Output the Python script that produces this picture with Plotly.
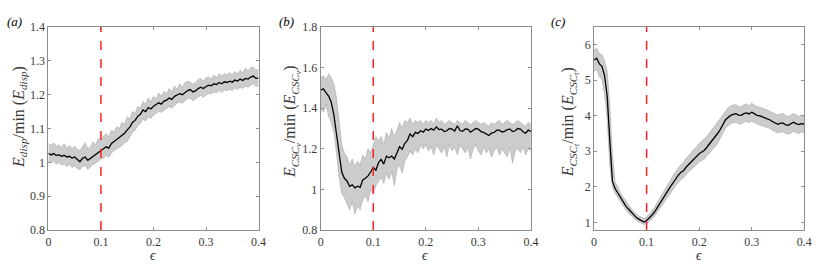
import plotly.graph_objects as go

W, H = 830, 277

eps = [round(i * 0.005, 3) for i in range(81)]

mean_a = [1.027, 1.022, 1.026, 1.020, 1.023, 1.018, 1.021, 1.016, 1.018, 1.013,
          1.016, 1.010, 1.002, 1.012, 1.016, 1.006, 1.012, 1.018, 1.022, 1.030,
          1.036, 1.040, 1.046, 1.042, 1.056, 1.062, 1.068, 1.074, 1.080, 1.086,
          1.096, 1.104, 1.118, 1.124, 1.136, 1.142, 1.155, 1.150, 1.162, 1.158,
          1.166, 1.170, 1.176, 1.172, 1.181, 1.184, 1.190, 1.186, 1.195, 1.199,
          1.203, 1.200, 1.207, 1.212, 1.215, 1.208, 1.211, 1.218, 1.222, 1.218,
          1.224, 1.228, 1.226, 1.232, 1.230, 1.236, 1.232, 1.238, 1.236, 1.240,
          1.237, 1.243, 1.240, 1.246, 1.242, 1.248, 1.246, 1.252, 1.255, 1.248, 1.249]
upper_a = [1.055, 1.050, 1.058, 1.048, 1.052, 1.045, 1.055, 1.042, 1.050, 1.040,
           1.048, 1.038, 1.035, 1.045, 1.058, 1.040, 1.045, 1.060, 1.052, 1.070,
           1.068, 1.078, 1.085, 1.075, 1.095, 1.090, 1.105, 1.100, 1.118, 1.112,
           1.135, 1.128, 1.150, 1.145, 1.165, 1.160, 1.180, 1.172, 1.190, 1.178,
           1.195, 1.188, 1.205, 1.195, 1.210, 1.202, 1.218, 1.208, 1.225, 1.215,
           1.232, 1.222, 1.235, 1.240, 1.238, 1.230, 1.236, 1.245, 1.248, 1.240,
           1.250, 1.252, 1.246, 1.258, 1.250, 1.262, 1.255, 1.262, 1.258, 1.265,
           1.258, 1.268, 1.262, 1.272, 1.265, 1.278, 1.270, 1.280, 1.282, 1.272, 1.275]
lower_a = [1.002, 0.998, 1.004, 0.995, 1.000, 0.992, 0.996, 0.988, 0.994, 0.985,
           0.990, 0.982, 0.978, 0.988, 0.990, 0.980, 0.986, 0.994, 0.998, 1.005,
           1.010, 1.012, 1.020, 1.015, 1.028, 1.035, 1.040, 1.045, 1.050, 1.058,
           1.062, 1.075, 1.088, 1.095, 1.108, 1.115, 1.128, 1.122, 1.135, 1.130,
           1.140, 1.145, 1.150, 1.148, 1.155, 1.160, 1.165, 1.160, 1.168, 1.175,
           1.178, 1.175, 1.182, 1.188, 1.190, 1.182, 1.188, 1.194, 1.198, 1.192,
           1.200, 1.204, 1.202, 1.208, 1.205, 1.212, 1.206, 1.214, 1.212, 1.216,
           1.212, 1.220, 1.215, 1.222, 1.218, 1.225, 1.222, 1.228, 1.232, 1.224, 1.226]

mean_b = [1.489, 1.495, 1.477, 1.460, 1.430, 1.367, 1.273, 1.164, 1.086, 1.055,
          1.042, 1.016, 1.023, 1.008, 1.016, 1.010, 1.047, 1.055, 1.067, 1.086,
          1.109, 1.095, 1.133, 1.148, 1.125, 1.164, 1.156, 1.164, 1.150, 1.180,
          1.211, 1.198, 1.227, 1.242, 1.273, 1.260, 1.281, 1.276, 1.289, 1.282,
          1.297, 1.290, 1.300, 1.292, 1.308, 1.295, 1.297, 1.285, 1.289, 1.300,
          1.297, 1.288, 1.314, 1.290, 1.286, 1.298, 1.297, 1.282, 1.292, 1.300,
          1.297, 1.285, 1.281, 1.272, 1.266, 1.278, 1.281, 1.292, 1.292, 1.283,
          1.286, 1.295, 1.297, 1.285, 1.289, 1.300, 1.297, 1.284, 1.277, 1.292, 1.286]
upper_b = [1.55, 1.56, 1.54, 1.57, 1.55, 1.52, 1.45, 1.34, 1.22, 1.18,
           1.16, 1.12, 1.15, 1.11, 1.14, 1.12, 1.17, 1.15, 1.20, 1.18,
           1.22, 1.26, 1.24, 1.26, 1.22, 1.28, 1.25, 1.30, 1.26, 1.29,
           1.33, 1.30, 1.34, 1.33, 1.35, 1.32, 1.34, 1.33, 1.34, 1.32,
           1.34, 1.33, 1.34, 1.32, 1.35, 1.33, 1.34, 1.32, 1.33, 1.34,
           1.33, 1.32, 1.34, 1.33, 1.32, 1.34, 1.33, 1.32, 1.33, 1.34,
           1.33, 1.32, 1.33, 1.32, 1.31, 1.33, 1.32, 1.33, 1.34, 1.32,
           1.33, 1.34, 1.33, 1.32, 1.33, 1.34, 1.33, 1.32, 1.31, 1.33, 1.32]
lower_b = [1.40, 1.38, 1.42, 1.36, 1.33, 1.28, 1.18, 1.06, 0.98, 0.96,
           0.93, 0.90, 0.94, 0.88, 0.92, 0.90, 0.95, 0.97, 0.94, 1.00,
           0.98, 1.02, 1.04, 1.06, 1.03, 1.08, 1.05, 1.09, 1.02, 1.10,
           1.12, 1.08, 1.14, 1.16, 1.19, 1.17, 1.20, 1.18, 1.22, 1.20,
           1.22, 1.19, 1.21, 1.17, 1.22, 1.20, 1.18, 1.21, 1.16, 1.22,
           1.19, 1.21, 1.17, 1.22, 1.20, 1.18, 1.21, 1.15, 1.20, 1.22,
           1.19, 1.17, 1.21, 1.18, 1.20, 1.16, 1.19, 1.21, 1.17, 1.20,
           1.18, 1.16, 1.21, 1.13, 1.19, 1.20, 1.18, 1.21, 1.17, 1.20, 1.19]

mean_c = [5.57, 5.62, 5.46, 5.39, 5.13, 4.55, 3.30, 2.15, 1.95, 1.83,
          1.70, 1.59, 1.47, 1.38, 1.29, 1.20, 1.14, 1.09, 1.05, 1.01,
          1.05, 1.12, 1.20, 1.29, 1.41, 1.53, 1.65, 1.78, 1.89, 2.00,
          2.10, 2.22, 2.32, 2.40, 2.45, 2.55, 2.63, 2.70, 2.78, 2.84,
          2.93, 2.98, 3.03, 3.12, 3.21, 3.30, 3.39, 3.50, 3.61, 3.76,
          3.88, 3.95, 4.01, 4.04, 4.06, 4.02, 4.01, 4.06, 4.08, 4.05,
          4.10, 4.06, 4.01, 4.00, 3.97, 3.95, 3.92, 3.88, 3.83, 3.80,
          3.76, 3.79, 3.79, 3.74, 3.73, 3.78, 3.82, 3.77, 3.75, 3.78, 3.76]
upper_c = [5.85, 5.90, 5.75, 5.72, 5.55, 5.25, 4.30, 2.90, 2.15, 1.98,
           1.84, 1.72, 1.60, 1.50, 1.40, 1.31, 1.24, 1.18, 1.14, 1.10,
           1.15, 1.24, 1.32, 1.42, 1.56, 1.68, 1.82, 1.95, 2.08, 2.20,
           2.30, 2.42, 2.52, 2.62, 2.68, 2.80, 2.88, 2.98, 3.05, 3.12,
           3.22, 3.28, 3.35, 3.42, 3.52, 3.62, 3.72, 3.82, 3.92, 4.05,
           4.15, 4.22, 4.28, 4.30, 4.32, 4.26, 4.25, 4.30, 4.33, 4.28,
           4.35, 4.30, 4.25, 4.24, 4.22, 4.18, 4.16, 4.12, 4.08, 4.05,
           4.02, 4.05, 4.06, 4.00, 3.98, 4.02, 4.06, 4.02, 3.98, 4.02, 4.00]
lower_c = [5.25, 5.30, 5.10, 5.02, 4.60, 3.90, 2.60, 2.00, 1.82, 1.70,
           1.58, 1.48, 1.36, 1.27, 1.19, 1.11, 1.06, 1.01, 0.97, 0.94,
           0.96, 1.02, 1.09, 1.17, 1.28, 1.40, 1.50, 1.62, 1.72, 1.82,
           1.92, 2.02, 2.12, 2.20, 2.25, 2.35, 2.42, 2.48, 2.56, 2.62,
           2.70, 2.74, 2.78, 2.88, 2.95, 3.05, 3.12, 3.22, 3.35, 3.52,
           3.65, 3.72, 3.78, 3.80, 3.82, 3.78, 3.76, 3.82, 3.84, 3.80,
           3.85, 3.80, 3.76, 3.74, 3.72, 3.70, 3.67, 3.64, 3.58, 3.56,
           3.52, 3.54, 3.55, 3.50, 3.48, 3.52, 3.56, 3.52, 3.50, 3.54, 3.52]

x_ticks = [0, 0.1, 0.2, 0.3, 0.4]
x_ticktext = ["0", "0.1", "0.2", "0.3", "0.4"]
y_ticks_a = [0.8, 0.9, 1.0, 1.1, 1.2, 1.3, 1.4]
y_ticktext_a = ["0.8", "0.9", "1", "1.1", "1.2", "1.3", "1.4"]
y_ticks_b = [0.8, 1.0, 1.2, 1.4, 1.6, 1.8]
y_ticktext_b = ["0.8", "1", "1.2", "1.4", "1.6", "1.8"]
y_ticks_c = [1, 2, 3, 4, 5, 6]
y_ticktext_c = ["1", "2", "3", "4", "5", "6"]

panel_labels = ["(a)", "(b)", "(c)"]
y_titles = [
    "<i>E</i><sub><i>disp</i></sub>/min (<i>E</i><sub><i>disp</i></sub>)",
    "<i>E</i><sub><i>CSC<sub>v</sub></i></sub>/min (<i>E</i><sub><i>CSC<sub>v</sub></i></sub>)",
    "<i>E</i><sub><i>CSC<sub>t</sub></i></sub>/min (<i>E</i><sub><i>CSC<sub>t</sub></i></sub>)",
]
threshold = 0.1

FONT = "Liberation Serif"
TEXT = "#3a3a3a"
AXIS = "#8c8c8c"

# pixel layout of the three plot boxes
boxes_px = [(46, 259), (322, 535), (599, 812)]
top_px, bot_px = 21, 235
y_ranges = [[0.8, 1.4], [0.8, 1.8], [0.78, 6.5]]
title_x_px = [16, 293, 575]
title_y_px = [116, 121, 121]
label_x_px = [2, 278, 553]

panels = [
    (mean_a, upper_a, lower_a, y_ticks_a, y_ticktext_a),
    (mean_b, upper_b, lower_b, y_ticks_b, y_ticktext_b),
    (mean_c, upper_c, lower_c, y_ticks_c, y_ticktext_c),
]

fig = go.Figure()
layout = dict(
    width=W, height=H, margin=dict(l=0, r=0, t=0, b=0),
    paper_bgcolor="white", plot_bgcolor="white", showlegend=False,
    font=dict(family=FONT, size=12, color=TEXT),
)
annotations = []
shapes = []
ydom = [1 - bot_px / H, 1 - top_px / H]

for i, (m, up, lo, yt, ytt) in enumerate(panels):
    k = "" if i == 0 else str(i + 1)
    xa, ya = "x" + k, "y" + k
    fig.add_trace(go.Scatter(x=eps, y=lo, xaxis=xa, yaxis=ya, mode="lines",
                             line=dict(color="#a8a8a8", width=0.6), hoverinfo="skip"))
    fig.add_trace(go.Scatter(x=eps, y=up, xaxis=xa, yaxis=ya, mode="lines", fill="tonexty",
                             fillcolor="#cccccc",
                             line=dict(color="#a8a8a8", width=0.6), hoverinfo="skip"))
    fig.add_trace(go.Scatter(x=eps, y=m, xaxis=xa, yaxis=ya, mode="lines",
                             line=dict(color="black", width=1.3)))
    x0p, x1p = boxes_px[i]
    common = dict(showgrid=False, zeroline=False, showline=True, linecolor=AXIS,
                  linewidth=1, mirror="ticks", ticks="inside", ticklen=3,
                  tickcolor=AXIS, tickfont=dict(family=FONT, size=12, color=TEXT))
    layout["xaxis" + k] = dict(domain=[x0p / W, x1p / W], range=[0, 0.4],
                               anchor=ya, tickvals=x_ticks, ticktext=x_ticktext, **common)
    layout["yaxis" + k] = dict(domain=ydom, range=y_ranges[i], anchor=xa,
                               tickvals=yt, ticktext=ytt, **common)
    shapes.append(dict(type="line", xref=xa, yref=ya + " domain", x0=threshold, x1=threshold,
                       y0=0, y1=1, line=dict(color="#ff2020", width=1.5, dash="dash"),
                       layer="above"))
    annotations.append(dict(text="<i>ϵ</i>", xref="paper", yref="paper",
                            x=(x0p + x1p) / 2 / W, y=1 - 262 / H,
                            xanchor="center", yanchor="middle", showarrow=False,
                            font=dict(family=FONT, size=14, color=TEXT)))
    annotations.append(dict(text=y_titles[i], xref="paper", yref="paper",
                            x=title_x_px[i] / W, y=1 - title_y_px[i] / H,
                            xanchor="center", yanchor="middle",
                            textangle=-90, showarrow=False,
                            font=dict(family=FONT, size=16, color=TEXT)))
    annotations.append(dict(text="<i>" + panel_labels[i] + "</i>", xref="paper", yref="paper",
                            x=label_x_px[i] / W, y=1 - 15 / H, xanchor="left", yanchor="middle",
                            showarrow=False, font=dict(family=FONT, size=13, color="black")))

layout["annotations"] = annotations
layout["shapes"] = shapes
fig.update_layout(**layout)
fig.write_html("out.html", config={"displayModeBar": False},
               post_script="document.body.style.margin='0';document.body.style.overflow='hidden';")
